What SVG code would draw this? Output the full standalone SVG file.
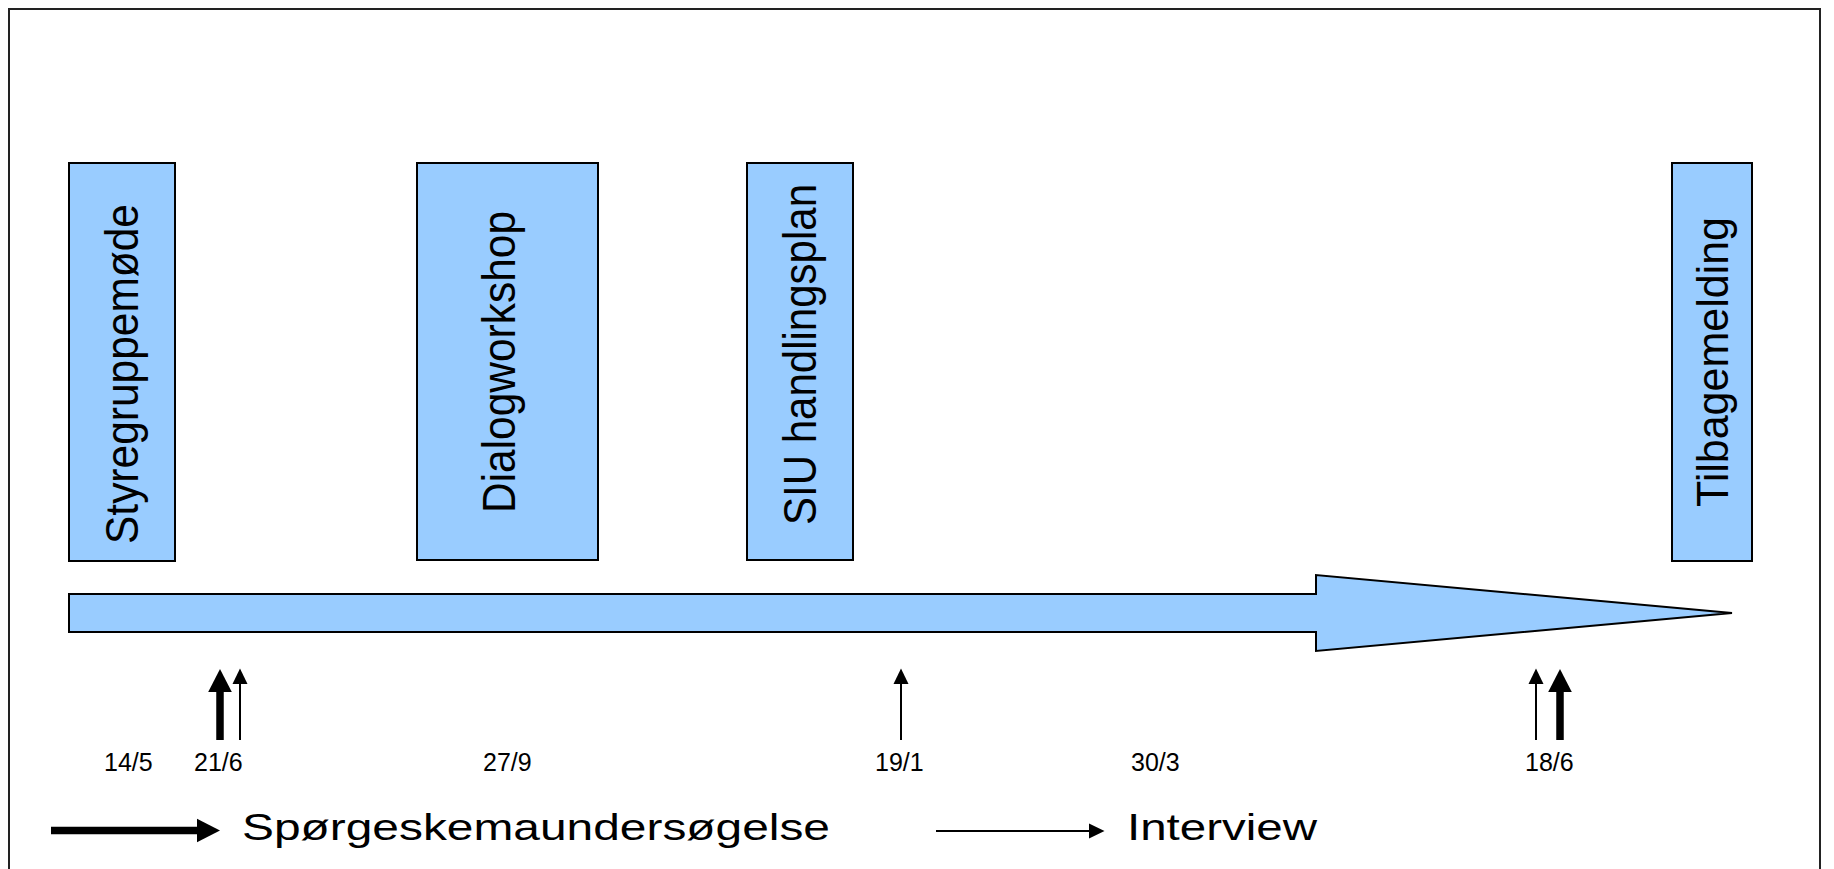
<svg xmlns="http://www.w3.org/2000/svg" width="1834" height="869" viewBox="0 0 1834 869">
  <style>
    .box { fill: #99CCFF; stroke: #000; stroke-width: 2; }
    .vlabel { font-family: "Liberation Sans", Arial, sans-serif; font-size: 46px; fill: #000; }
    .date { font-family: "Liberation Sans", Arial, sans-serif; font-size: 25px; fill: #000; }
    .legend { font-family: "Liberation Sans", Arial, sans-serif; font-size: 36px; fill: #000; }
    .thin { stroke: #000; stroke-width: 2; fill: none; marker-end: url(#headThin); }
    .thick { stroke: #000; stroke-width: 7.5; fill: none; marker-end: url(#headThick); }
  </style>
  <defs>
    <marker id="headThin" markerUnits="userSpaceOnUse" markerWidth="20" markerHeight="20" refX="0" refY="0" orient="auto" overflow="visible">
      <path d="M0,-7.5 L15.5,0 L0,7.5 Z" fill="#000"/>
    </marker>
    <marker id="headThick" markerUnits="userSpaceOnUse" markerWidth="30" markerHeight="30" refX="0" refY="0" orient="auto" overflow="visible">
      <path d="M0,-11.8 L23,0 L0,11.8 Z" fill="#000"/>
    </marker>
  </defs>

  <rect id="frame" x="9" y="9" width="1811" height="880" fill="#fff" stroke="#222" stroke-width="2"/>

  <g id="timeline">
    <path d="M69,594 L1316,594 L1316,575 L1732,613 L1316,651 L1316,632 L69,632 Z" fill="#99CCFF" stroke="#000" stroke-width="2" stroke-linejoin="miter"/>
  </g>

  <g id="node-styregruppemode">
    <rect class="box" x="69" y="163" width="106" height="398"/>
    <text class="vlabel" transform="translate(138,544) rotate(-90)" textLength="340" lengthAdjust="spacingAndGlyphs" style="font-size:47px">Styregruppemøde</text>
  </g>
  <g id="node-dialogworkshop">
    <rect class="box" x="417" y="163" width="181" height="397"/>
    <text class="vlabel" transform="translate(515,513) rotate(-90)" textLength="302" lengthAdjust="spacingAndGlyphs">Dialogworkshop</text>
  </g>
  <g id="node-siu">
    <rect class="box" x="747" y="163" width="106" height="397"/>
    <text class="vlabel" transform="translate(816,525) rotate(-90)" textLength="341" lengthAdjust="spacingAndGlyphs">SIU handlingsplan</text>
  </g>
  <g id="node-tilbagemelding">
    <rect class="box" x="1672" y="163" width="80" height="398"/>
    <text class="vlabel" transform="translate(1728,507) rotate(-90)" textLength="290" lengthAdjust="spacingAndGlyphs" style="font-size:44.5px">Tilbagemelding</text>
  </g>

  <g id="connectors">
    <line class="thick" x1="220" y1="740" x2="220" y2="692"/>
    <line class="thin" x1="240" y1="740" x2="240" y2="684"/>
    <line class="thin" x1="901" y1="740" x2="901" y2="684"/>
    <line class="thin" x1="1536" y1="740" x2="1536" y2="684"/>
    <line class="thick" x1="1560" y1="740" x2="1560" y2="692"/>
    <line class="thick" x1="51" y1="830.5" x2="197" y2="830.5"/>
    <line class="thin" x1="936" y1="831" x2="1089" y2="831"/>
  </g>

  <g id="dates">
    <text class="date" x="104" y="771">14/5</text>
    <text class="date" x="194" y="771">21/6</text>
    <text class="date" x="483" y="771">27/9</text>
    <text class="date" x="875" y="771">19/1</text>
    <text class="date" x="1131" y="771">30/3</text>
    <text class="date" x="1525" y="771">18/6</text>
  </g>

  <g id="legend">
    <text class="legend" x="242" y="840" textLength="588" lengthAdjust="spacingAndGlyphs">Spørgeskemaundersøgelse</text>
    <text class="legend" x="1127" y="840" textLength="190" lengthAdjust="spacingAndGlyphs">Interview</text>
  </g>
</svg>
